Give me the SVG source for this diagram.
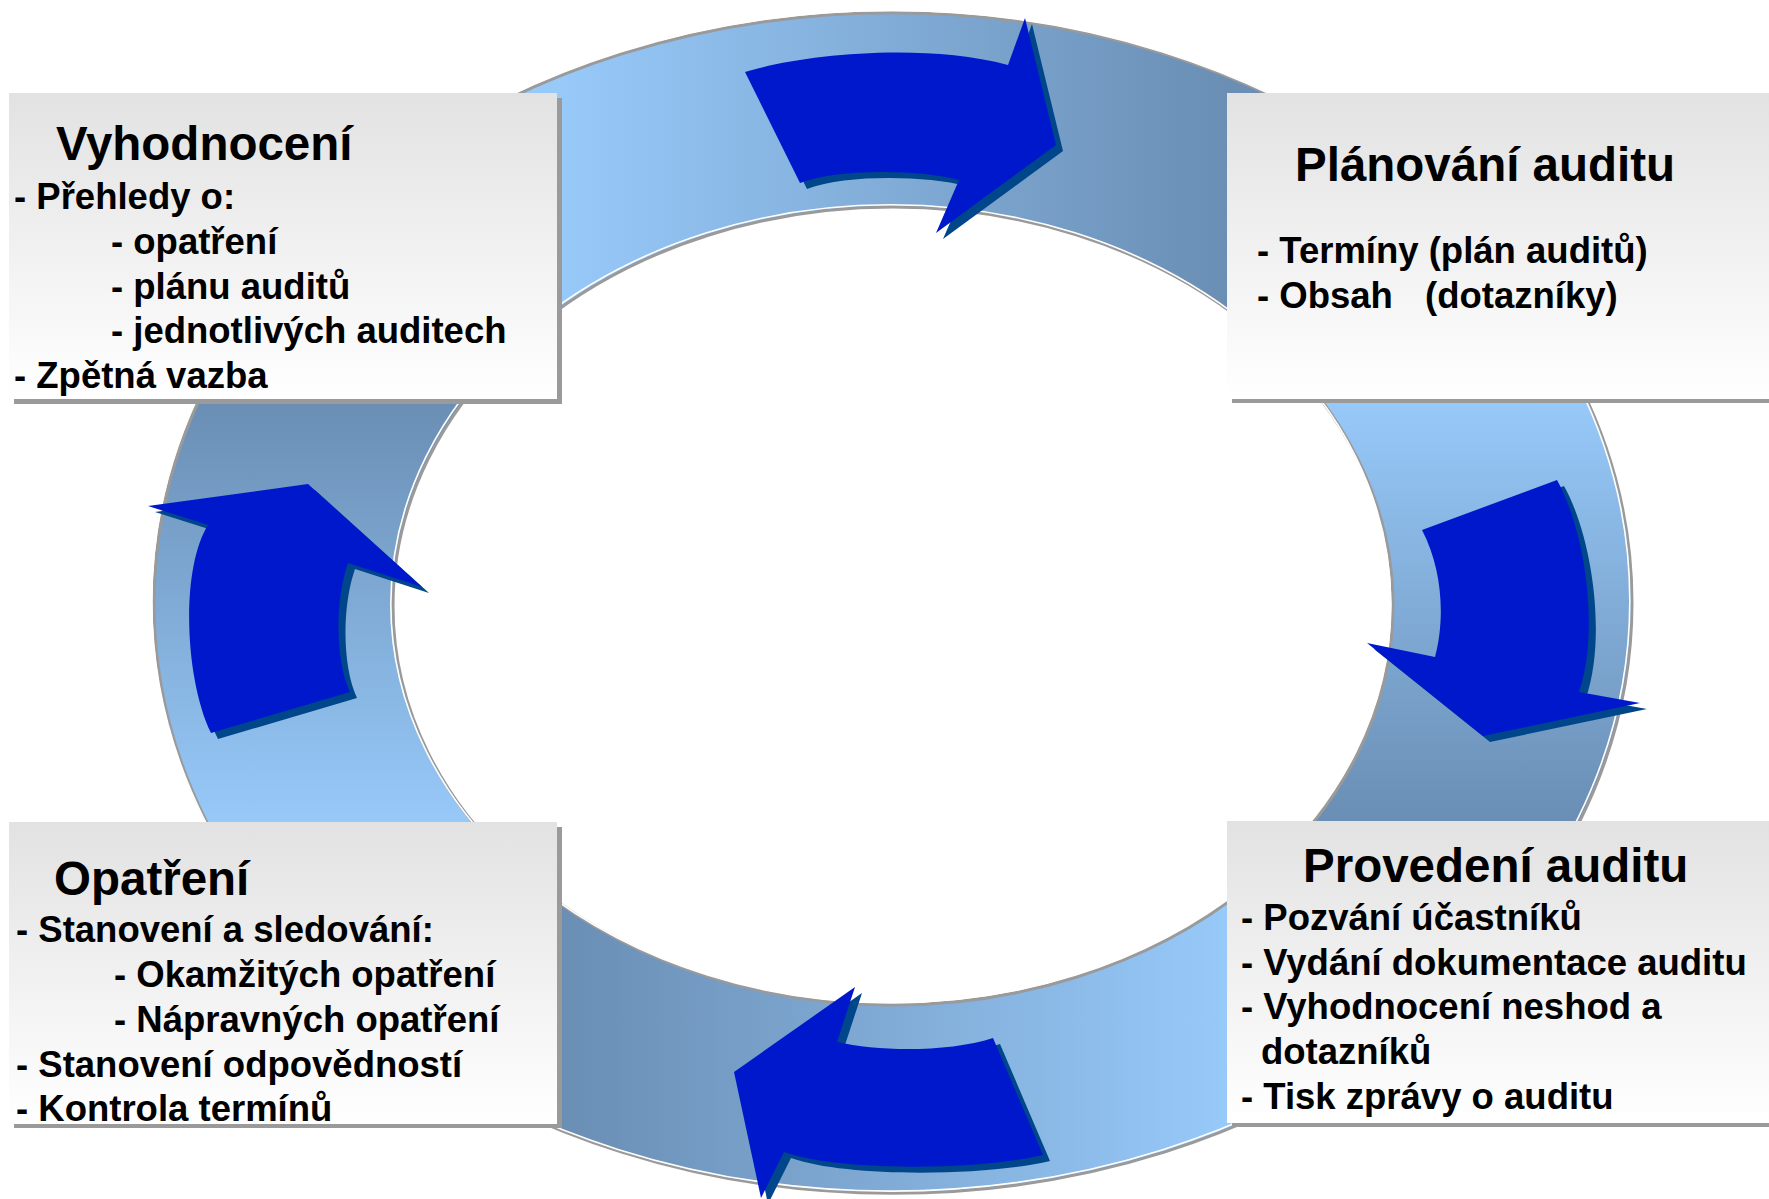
<svg xmlns="http://www.w3.org/2000/svg" width="1769" height="1199" viewBox="0 0 1769 1199">
<style>
text{font-family:"Liberation Sans",Arial,Helvetica,sans-serif;font-weight:bold;fill:#000}
.t{font-size:47.5px}
.b{font-size:36.5px}
.ring{stroke:#9a9a9a;stroke-width:3;fill-rule:evenodd}
.hl{fill:none;stroke:#fff;stroke-width:1.6}
.arrow{fill:#0018CC}
.ash{fill:#00468A}
.box{fill:url(#gBox)}
.bsh{fill:#9a9a9a}
</style>
<defs>
<linearGradient id="gTop" gradientUnits="userSpaceOnUse" x1="560" y1="0" x2="1230" y2="0"><stop offset="0" stop-color="#97C9F9"/><stop offset="1" stop-color="#6A8EB4"/></linearGradient>
<linearGradient id="gRight" gradientUnits="userSpaceOnUse" x1="0" y1="400" x2="0" y2="822"><stop offset="0" stop-color="#97C9F9"/><stop offset="1" stop-color="#6A8EB4"/></linearGradient>
<linearGradient id="gBottom" gradientUnits="userSpaceOnUse" x1="1227" y1="0" x2="561" y2="0"><stop offset="0" stop-color="#97C9F9"/><stop offset="1" stop-color="#6A8EB4"/></linearGradient>
<linearGradient id="gLeft" gradientUnits="userSpaceOnUse" x1="0" y1="822" x2="0" y2="400"><stop offset="0" stop-color="#97C9F9"/><stop offset="1" stop-color="#6A8EB4"/></linearGradient>
<linearGradient id="gBox" x1="0" y1="0" x2="0" y2="1"><stop offset="0" stop-color="#E2E2E2"/><stop offset="1" stop-color="#FFFFFF"/></linearGradient>
<clipPath id="cTop"><polygon points="893,606 -103,-12 1892,-12"/></clipPath>
<clipPath id="cRight"><polygon points="893,606 1892,-12 1895,1254"/></clipPath>
<clipPath id="cBottom"><polygon points="893,606 1895,1254 -103,1254"/></clipPath>
<clipPath id="cLeft"><polygon points="893,606 -103,1254 -103,-12"/></clipPath>
<path id="ringShape" d="M154,603 A739,590 0 1,0 1632,603 A739,590 0 1,0 154,603 Z M393,606 A500,399 0 1,0 1393,606 A500,399 0 1,0 393,606 Z"/>
<path id="aTop" d="M745,72 C800,55 920,42 1008,65 L1025,18 L1056,145 L936,233 L959,180 C920,170 840,168 800,183 Z"/>
<path id="aRight" d="M1422,530 L1557,480 C1585,530 1600,630 1579,692 L1640,703 L1483,736 L1367,643 L1435,657 C1445,620 1443,570 1422,530 Z"/>
<path id="aBottom" d="M855,987 L837,1042 C880,1052 950,1052 993,1038 L1043,1155 C980,1170 840,1172 784,1152 L761,1198 L734,1072 Z"/>
<path id="aLeft" d="M148,506 L308,484 L422,587 L348,563 C335,600 335,660 350,692 L211,733 C185,680 180,570 208,525 Z"/>
</defs>
<rect width="1769" height="1199" fill="#fff"/>
<g id="ring">
<use href="#ringShape" class="ring" fill="url(#gTop)" clip-path="url(#cTop)"/>
<use href="#ringShape" class="ring" fill="url(#gRight)" clip-path="url(#cRight)"/>
<use href="#ringShape" class="ring" fill="url(#gBottom)" clip-path="url(#cBottom)"/>
<use href="#ringShape" class="ring" fill="url(#gLeft)" clip-path="url(#cLeft)"/>
<use href="#ringShape" class="hl" transform="translate(-2.2,-2.2)"/>
</g>
<g id="connectors">
<use href="#aTop" class="ash" transform="translate(7,6)"/>
<use href="#aTop" class="arrow"/>
<use href="#aRight" class="ash" transform="translate(7,6)"/>
<use href="#aRight" class="arrow"/>
<use href="#aBottom" class="ash" transform="translate(7,6)"/>
<use href="#aBottom" class="arrow"/>
<use href="#aLeft" class="ash" transform="translate(7,6)"/>
<use href="#aLeft" class="arrow"/>
</g>
<g id="vyhodnoceni">
<rect class="bsh" x="14" y="98" width="548" height="306"/>
<rect class="box" x="9" y="93" width="548" height="306"/>
<text class="t" x="56" y="160">Vyhodnocení</text>
<text class="b" x="14" y="209">- Přehledy o:</text>
<text class="b" x="111" y="254">- opatření</text>
<text class="b" x="111" y="299">- plánu auditů</text>
<text class="b" x="111" y="343">- jednotlivých auditech</text>
<text class="b" x="14" y="388">- Zpětná vazba</text>
</g>
<g id="planovani">
<rect class="bsh" x="1232" y="98" width="545" height="305"/>
<rect class="box" x="1227" y="93" width="545" height="306"/>
<text class="t" x="1295" y="181">Plánování auditu</text>
<text class="b" x="1257" y="263">- Termíny (plán auditů)</text>
<text class="b" x="1257" y="308">- Obsah</text>
<text class="b" x="1425" y="308">(dotazníky)</text>
</g>
<g id="opatreni">
<rect class="bsh" x="14" y="827" width="548" height="301"/>
<rect class="box" x="9" y="822" width="548" height="302"/>
<text class="t" x="54" y="895">Opatření</text>
<text class="b" x="16" y="942">- Stanovení a sledování:</text>
<text class="b" x="114" y="987">- Okamžitých opatření</text>
<text class="b" x="114" y="1032">- Nápravných opatření</text>
<text class="b" x="16" y="1077">- Stanovení odpovědností</text>
<text class="b" x="16" y="1121">- Kontrola termínů</text>
</g>
<g id="provedeni">
<rect class="bsh" x="1232" y="826" width="545" height="301"/>
<rect class="box" x="1227" y="821" width="545" height="302"/>
<text class="t" x="1303" y="882">Provedení auditu</text>
<text class="b" x="1241" y="930">- Pozvání účastníků</text>
<text class="b" x="1241" y="975">- Vydání dokumentace auditu</text>
<text class="b" x="1241" y="1019">- Vyhodnocení neshod a</text>
<text class="b" x="1261" y="1064">dotazníků</text>
<text class="b" x="1241" y="1109">- Tisk zprávy o auditu</text>
</g>
</svg>
